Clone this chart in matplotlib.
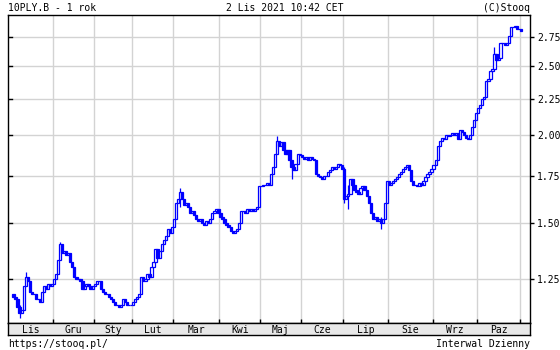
import numpy as np
import pandas as pd
import matplotlib
matplotlib.use("Agg")
import matplotlib.pyplot as plt
from matplotlib.ticker import FixedLocator, FixedFormatter, NullLocator

# trading days Nov 2020 - Nov 2021 (GPW holidays dropped)
holidays = ["2020-11-11", "2020-12-24", "2020-12-25", "2020-12-31", "2021-01-01",
            "2021-01-06", "2021-04-02", "2021-04-05", "2021-05-03", "2021-06-03",
            "2021-11-01"]
days = pd.bdate_range("2020-11-02", "2021-11-02")
days = days[~days.isin(pd.to_datetime(holidays))]

month_labels = ["Lis", "Gru", "Sty", "Lut", "Mar", "Kwi", "Maj", "Cze", "Lip", "Sie", "Wrz", "Paz"]

# daily closes, month by month
closes = [
    # Lis
    1.18, 1.17, 1.14, 1.12, 1.13, 1.22, 1.26, 1.24, 1.20, 1.19,
    1.19, 1.17, 1.17, 1.16, 1.20, 1.22, 1.21, 1.23, 1.22, 1.23,
    # Gru
    1.25, 1.27, 1.33, 1.40, 1.36, 1.37, 1.35, 1.36, 1.32, 1.30,
    1.26, 1.25, 1.25, 1.24, 1.21, 1.22, 1.23, 1.22, 1.21, 1.22,
    # Sty
    1.23, 1.24, 1.24, 1.21, 1.20, 1.19, 1.19, 1.18, 1.17, 1.16,
    1.15, 1.15, 1.14, 1.15, 1.17, 1.16, 1.15, 1.15, 1.15,
    # Lut
    1.16, 1.17, 1.18, 1.19, 1.26, 1.24, 1.25, 1.27, 1.26, 1.30,
    1.32, 1.38, 1.34, 1.37, 1.40, 1.42, 1.44, 1.47, 1.45, 1.48,
    # Mar
    1.52, 1.60, 1.62, 1.66, 1.62, 1.59, 1.60, 1.58, 1.55, 1.56,
    1.54, 1.52, 1.51, 1.52, 1.50, 1.49, 1.51, 1.50, 1.52, 1.55,
    1.56, 1.57, 1.55,
    # Kwi
    1.53, 1.52, 1.50, 1.49, 1.48, 1.46, 1.45, 1.46, 1.47, 1.50,
    1.56, 1.56, 1.55, 1.57, 1.56, 1.57, 1.56, 1.57, 1.58, 1.69,
    # Maj
    1.69, 1.70, 1.70, 1.71, 1.70, 1.76, 1.80, 1.88, 1.96, 1.93,
    1.95, 1.90, 1.88, 1.90, 1.84, 1.80, 1.78, 1.82, 1.88, 1.87,
    # Cze
    1.86, 1.85, 1.86, 1.84, 1.86, 1.85, 1.84, 1.76, 1.75, 1.74,
    1.73, 1.75, 1.75, 1.77, 1.78, 1.80, 1.79, 1.80, 1.82, 1.81,
    1.79,
    # Lip
    1.62, 1.64, 1.65, 1.73, 1.70, 1.67, 1.66, 1.65, 1.68, 1.69,
    1.67, 1.64, 1.60, 1.55, 1.52, 1.53, 1.51, 1.52, 1.50, 1.52,
    1.60, 1.72,
    # Sie
    1.70, 1.71, 1.72, 1.73, 1.74, 1.76, 1.77, 1.79, 1.80, 1.81,
    1.78, 1.72, 1.70, 1.70, 1.69, 1.71, 1.70, 1.72, 1.74, 1.76,
    1.77, 1.79,
    # Wrz
    1.81, 1.84, 1.93, 1.96, 1.98, 1.97, 2.00, 1.99, 2.00, 2.01,
    2.00, 2.01, 1.97, 2.03, 2.02, 2.00, 1.98, 1.97, 2.00, 2.05,
    2.10, 2.15,
    # Paz
    2.18, 2.20, 2.25, 2.26, 2.38, 2.40, 2.46, 2.48, 2.60, 2.55,
    2.57, 2.70, 2.70, 2.68, 2.70, 2.76, 2.84, 2.84, 2.85, 2.82,
    2.82,
    # Lis 2021
    2.80,
]
first_open = 1.19

# the few longer wicks that stand out
wick_idx = [3, 6, 23, 82, 130, 137, 163, 165, 181, 237]
wick_low = [1.10, 1.22, 1.33, 1.58, 1.88, 1.73, 1.60, 1.57, 1.47, 2.50]
wick_high = [1.15, 1.28, 1.41, 1.68, 1.99, 1.82, 1.80, 1.70, 1.53, 2.66]

n = min(len(days), len(closes))
days = days[:n]
closes = np.array(closes[:n])
opens = np.concatenate([[first_open], closes[:-1]])
x = np.arange(n)

# month boundaries
mon = days.month.values
starts = [i for i in range(1, n) if mon[i] != mon[i - 1]]
grid_x = [s - 0.5 for s in starts]
xlim = (-2.7, 254.5)

blue = "#0000ff"
grid_c = "#d3d3d3"
mono = "DejaVu Sans Mono"
fs = 7

fig = plt.figure(figsize=(5.6, 3.5), dpi=100)
ax = fig.add_axes([8 / 560, 1 - 323 / 350, 522 / 560, 308 / 350])
band = fig.add_axes([8 / 560, 1 - 335 / 350, 522 / 560, 12 / 350])

ax.set_yscale("log")
ax.set_ylim(1.083, 2.954)
ax.set_xlim(*xlim)

yt = [1.25, 1.50, 1.75, 2.00, 2.25, 2.50, 2.75]
for y in yt:
    ax.axhline(y, color=grid_c, lw=1, zorder=0)
for g in grid_x:
    ax.axvline(g, color=grid_c, lw=1, zorder=0)

# candles: hollow when up, filled when down
up = closes >= opens
lo = np.minimum(opens, closes)
hi = np.maximum(opens, closes)
ax.vlines(wick_idx, wick_low, wick_high, color=blue, lw=0.9, zorder=2)
ax.bar(x[up], hi[up] - lo[up], bottom=lo[up], width=1.1,
       facecolor="white", edgecolor=blue, linewidth=0.9, zorder=3)
ax.bar(x[~up], hi[~up] - lo[~up], bottom=lo[~up], width=1.1,
       facecolor=blue, edgecolor=blue, linewidth=0.9, zorder=3)

ax.yaxis.set_major_locator(FixedLocator(yt))
ax.yaxis.set_major_formatter(FixedFormatter(["%.2f" % v for v in yt]))
ax.yaxis.set_minor_locator(NullLocator())
ax.yaxis.tick_right()
ax.tick_params(axis="y", direction="out", length=3, width=1, pad=2, labelsize=fs)
for lab in ax.get_yticklabels():
    lab.set_fontfamily(mono)
# small inward ticks on the left edge
for y in yt:
    ax.plot([0, 0.008], [y, y], transform=ax.get_yaxis_transform(), color="black", lw=1, zorder=4)

ax.set_xticks(grid_x)
ax.set_xticklabels([])
ax.tick_params(axis="x", direction="in", length=3, width=1, color="black")
for sp in ax.spines.values():
    sp.set_color("black")
    sp.set_linewidth(1)

# month band under the plot
band.set_xlim(*xlim)
band.set_ylim(0, 1)
band.set_facecolor("#e8e8e8")
band.set_xticks([])
band.set_yticks([])
for sp in band.spines.values():
    sp.set_linewidth(1)
edges = [xlim[0]] + grid_x + [xlim[1]]
for k, lab in enumerate(month_labels):
    mid = (edges[k] + edges[k + 1]) / 2
    band.text(mid, 0.45, lab, ha="center", va="center", fontsize=fs, family=mono)

fig.text(8 / 560, 1 - 8 / 350, "10PLY.B - 1 rok", ha="left", va="center", fontsize=fs, family=mono)
fig.text(285 / 560, 1 - 8 / 350, "2 Lis 2021 10:42 CET", ha="center", va="center", fontsize=fs, family=mono)
fig.text(530 / 560, 1 - 8 / 350, "(C)Stooq", ha="right", va="center", fontsize=fs, family=mono)
fig.text(8 / 560, 1 - 344 / 350, "https://stooq.pl/", ha="left", va="center", fontsize=fs, family=mono)
fig.text(530 / 560, 1 - 344 / 350, "Interwal Dzienny", ha="right", va="center", fontsize=fs, family=mono)

fig.savefig("out.png", dpi=100, facecolor="white")
